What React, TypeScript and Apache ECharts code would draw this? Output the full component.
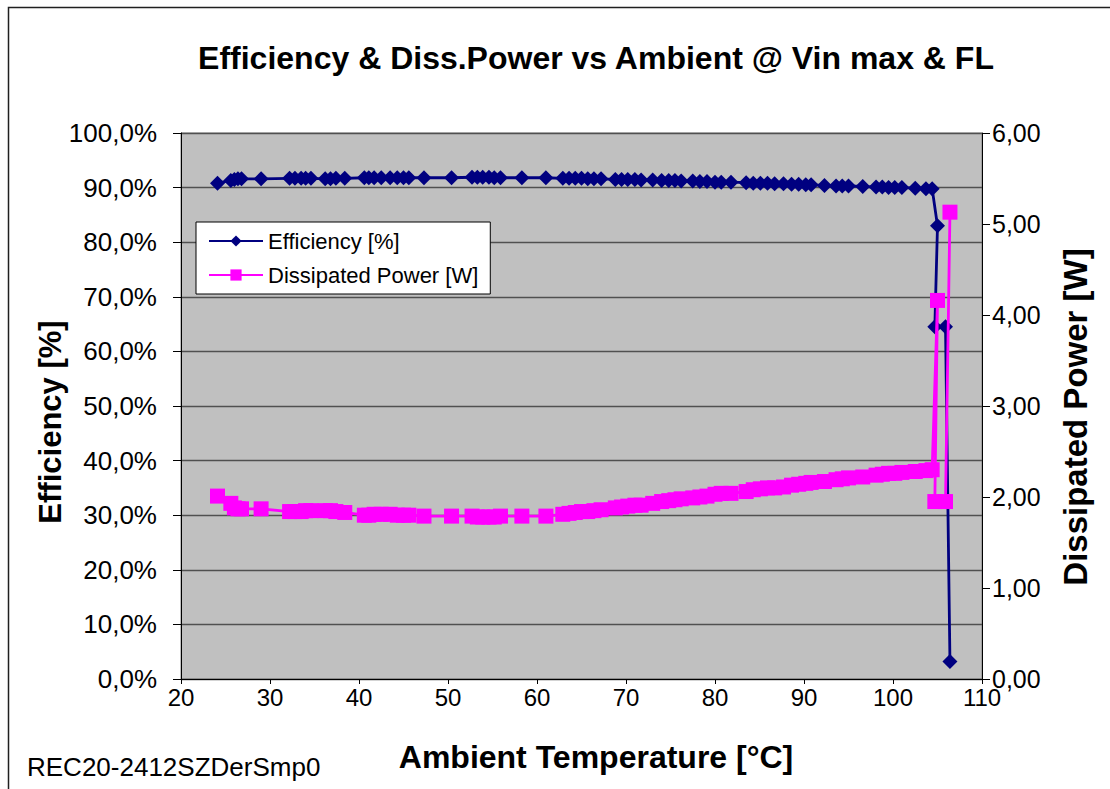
import React, { useEffect, useRef } from "react";
import * as echarts from "echarts";

const temps = [
  24.1, 25.6, 26.0, 26.4, 26.8, 29.0, 32.2, 32.8, 33.5, 34.0, 34.6, 36.2, 36.8, 37.4, 38.4,
  40.6, 41.1, 41.7, 42.5, 43.5, 44.3, 45.0, 45.6, 47.3, 50.4, 52.7, 53.3, 53.9, 54.6, 55.2,
  55.9, 58.3, 61.0, 62.9, 63.6, 64.3, 65.0, 65.7, 66.4, 67.2, 68.8, 69.5, 70.2, 71.0, 71.7,
  73.0, 74.0, 74.8, 75.5, 76.2, 77.5, 78.3, 79.1, 80.0, 80.7, 81.8, 83.5, 84.3, 85.1, 85.9,
  86.7, 87.7, 88.6, 89.4, 90.2, 90.8, 92.3, 93.6, 94.3, 95.0, 96.6, 98.1, 98.8, 99.5, 100.2,
  101.0, 102.5, 103.7, 104.4, 105.0, 104.7, 105.9, 106.4,
];

const efficiency = [
  90.8, 91.3, 91.5, 91.6, 91.6, 91.6, 91.7, 91.7, 91.7, 91.7, 91.7, 91.6, 91.6, 91.7, 91.7,
  91.8, 91.8, 91.8, 91.8, 91.8, 91.8, 91.8, 91.8, 91.8, 91.8, 91.9, 91.9, 91.9, 91.9, 91.8,
  91.8, 91.8, 91.8, 91.7, 91.7, 91.7, 91.7, 91.6, 91.6, 91.6, 91.5, 91.5, 91.5, 91.5, 91.4,
  91.4, 91.3, 91.3, 91.3, 91.2, 91.2, 91.1, 91.1, 91.0, 91.0, 91.0, 90.9, 90.8, 90.8, 90.8,
  90.7, 90.7, 90.6, 90.6, 90.5, 90.5, 90.4, 90.3, 90.3, 90.3, 90.2, 90.1, 90.1, 90.0, 90.0,
  90.0, 89.9, 89.8, 89.8, 83.0, 64.5, 64.5, 3.2,
];

const power = [
  2.01, 1.93, 1.88, 1.87, 1.87, 1.87, 1.84, 1.84, 1.84, 1.85, 1.85, 1.85, 1.85, 1.84, 1.83,
  1.80, 1.80, 1.81, 1.81, 1.81, 1.80, 1.80, 1.80, 1.79, 1.79, 1.79, 1.78, 1.78, 1.78, 1.78,
  1.79, 1.79, 1.79, 1.81, 1.82, 1.83, 1.84, 1.84, 1.85, 1.86, 1.88, 1.89, 1.90, 1.91, 1.91,
  1.93, 1.95, 1.96, 1.97, 1.98, 1.99, 2.00, 2.01, 2.03, 2.04, 2.04, 2.06, 2.08, 2.09, 2.10,
  2.10, 2.11, 2.13, 2.14, 2.15, 2.16, 2.17, 2.19, 2.20, 2.21, 2.22, 2.24, 2.25, 2.26, 2.26,
  2.27, 2.28, 2.29, 2.30, 4.16, 1.95, 1.95, 5.13,
];

const titleText = "Efficiency & Diss.Power vs Ambient @ Vin max & FL";
const xName = "Ambient Temperature [°C]";
const yLeftName = "Efficiency [%]";
const yRightName = "Dissipated Power [W]";
const footerText = "REC20-2412SZDerSmp0";
const effName = "Efficiency [%]";
const powName = "Dissipated Power [W]";

const FONT = "'Liberation Sans', Arial, sans-serif";

export default function App() {
  const ref = useRef<HTMLDivElement>(null);
  useEffect(() => {
    if (!ref.current) return;
    const chart = echarts.init(ref.current, undefined, { renderer: "svg" });
    const effData = temps.map((t, i) => [t, efficiency[i]]);
    const powData = temps.map((t, i) => [t, power[i]]);
    chart.setOption({
      animation: false,
      backgroundColor: "#ffffff",
      textStyle: { fontFamily: FONT },
      title: {
        text: titleText,
        left: 591,
        textAlign: "center",
        top: 37,
        textStyle: { fontFamily: FONT, fontWeight: "bold", fontSize: 32, color: "#000" },
      },
      grid: { left: 181, top: 133, width: 801, height: 546, show: true, backgroundColor: "#C0C0C0", borderColor: "#808080", borderWidth: 1 },
      legend: {
        left: 196,
        top: 222,
        orient: "vertical",
        backgroundColor: "#ffffff",
        borderColor: "#000000",
        borderWidth: 1,
        borderRadius: 0,
        padding: [8, 12, 8, 12],
        itemGap: 12,
        itemWidth: 54,
        itemHeight: 14,
        textStyle: { fontFamily: FONT, fontSize: 22, color: "#000" },
        data: [effName, powName],
      },
      xAxis: {
        type: "value",
        min: 20,
        max: 110,
        interval: 10,
        axisLine: { show: true, lineStyle: { color: "#000", width: 1 } },
        axisTick: { show: true, length: 5, lineStyle: { color: "#000" } },
        axisLabel: { fontFamily: FONT, fontSize: 24, color: "#000", margin: 6 },
        splitLine: { show: false },
      },
      yAxis: [
        {
          type: "value",
          min: 0,
          max: 100,
          interval: 10,
          axisLine: { show: true, lineStyle: { color: "#000", width: 1 } },
          axisTick: { show: true, length: 8, lineStyle: { color: "#000" } },
          axisLabel: {
            fontFamily: FONT,
            fontSize: 26,
            color: "#000",
            margin: 24,
            formatter: (v: number) => v.toFixed(1).replace(".", ",") + "%",
          },
          splitLine: { show: true, lineStyle: { color: "#505050", width: 1.3 } },
        },
        {
          type: "value",
          min: 0,
          max: 6,
          interval: 1,
          position: "right",
          axisLine: { show: true, lineStyle: { color: "#000", width: 1 } },
          axisTick: { show: true, length: 8, lineStyle: { color: "#000" } },
          axisLabel: {
            fontFamily: FONT,
            fontSize: 25,
            color: "#000",
            margin: 10,
            formatter: (v: number) => v.toFixed(2).replace(".", ","),
          },
          splitLine: { show: false },
        },
      ],
      series: [
        {
          name: effName,
          type: "line",
          yAxisIndex: 0,
          data: effData,
          symbol: "diamond",
          symbolSize: 15,
          itemStyle: { color: "#000080" },
          lineStyle: { color: "#000080", width: 2.8 },
          z: 3,
        },
        {
          name: powName,
          type: "line",
          yAxisIndex: 1,
          data: powData,
          symbol: "rect",
          symbolSize: 15,
          itemStyle: { color: "#FF00FF" },
          lineStyle: { color: "#FF00FF", width: 2.8 },
          z: 4,
        },
      ],
      graphic: [
        {
          type: "rect",
          shape: { x: 8.5, y: 7.5, width: 1200, height: 900 },
          style: { fill: "none", stroke: "#202020", lineWidth: 1.5 },
          silent: true,
          z: 100,
        },
        {
          type: "text",
          x: 596,
          y: 757,
          style: { text: xName, font: `bold 32px ${FONT}`, fill: "#000", textAlign: "center", textVerticalAlign: "middle" },
        },
        {
          type: "text",
          x: 50,
          y: 422,
          rotation: Math.PI / 2,
          style: { text: yLeftName, font: `bold 31px ${FONT}`, fill: "#000", textAlign: "center", textVerticalAlign: "middle" },
        },
        {
          type: "text",
          x: 1075,
          y: 417,
          rotation: Math.PI / 2,
          style: { text: yRightName, font: `bold 33px ${FONT}`, fill: "#000", textAlign: "center", textVerticalAlign: "middle" },
        },
        {
          type: "text",
          x: 27,
          y: 767,
          style: { text: footerText, font: `26px ${FONT}`, fill: "#000", textVerticalAlign: "middle" },
        },
      ],
    });
    return () => chart.dispose();
  }, []);
  return <div ref={ref} style={{ position: "fixed", left: 0, top: 0, width: 1110, height: 789 }} />;
}
